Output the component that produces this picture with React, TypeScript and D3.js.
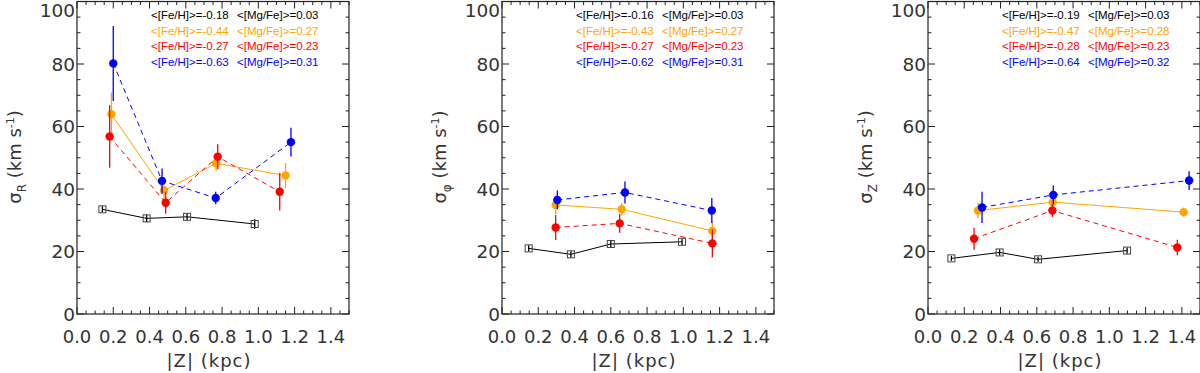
import React from "react";
import * as d3 from "d3";

// each point: [|Z| kpc, sigma km/s, error]
const sigR_black = [[0.14, 33.5, 1], [0.384, 30.6, 1.2], [0.607, 31.1, 1], [0.98, 28.8, 1.5]];
const sigR_orange = [[0.19, 63.9, 7], [0.48, 39.5, 3], [0.767, 48.2, 2.5], [1.15, 44.3, 4]];
const sigR_red = [[0.18, 56.8, 10], [0.489, 35.6, 3.5], [0.776, 50.3, 4], [1.118, 39.1, 6]];
const sigR_blue = [[0.2, 80.2, 12], [0.469, 42.6, 4], [0.765, 37.1, 2], [1.18, 55.0, 4.6]];

const sigPhi_black = [[0.147, 21.0, 1], [0.38, 19.1, 1], [0.6, 22.4, 1], [0.993, 23.1, 1]];
const sigPhi_orange = [[0.296, 34.9, 3], [0.66, 33.5, 2], [1.16, 26.6, 3]];
const sigPhi_red = [[0.296, 27.7, 4], [0.649, 29.0, 3], [1.16, 22.6, 4.5]];
const sigPhi_blue = [[0.305, 36.5, 3], [0.678, 38.9, 3.5], [1.157, 33.1, 4]];

const sigZ_black = [[0.129, 17.8, 0.8], [0.395, 19.7, 1], [0.607, 17.5, 0.8], [1.098, 20.3, 1]];
const sigZ_orange = [[0.276, 33.1, 2.5], [0.688, 35.8, 2], [1.41, 32.6, 1.5]];
const sigZ_red = [[0.254, 24.1, 3.5], [0.686, 33.1, 2], [1.375, 21.3, 2.5]];
const sigZ_blue = [[0.298, 34.1, 5], [0.691, 38.1, 3], [1.44, 42.7, 3]];

const legendFeR = ["-0.18", "-0.44", "-0.27", "-0.63"];
const legendMgR = ["0.03", "0.27", "0.23", "0.31"];
const legendFePhi = ["-0.16", "-0.43", "-0.27", "-0.62"];
const legendMgPhi = ["0.03", "0.27", "0.23", "0.31"];
const legendFeZ = ["-0.19", "-0.47", "-0.28", "-0.64"];
const legendMgZ = ["0.03", "0.28", "0.23", "0.32"];

const yTicks = [0, 20, 40, 60, 80, 100];
const xTicks = ["0.0", "0.2", "0.4", "0.6", "0.8", "1.0", "1.2", "1.4"];

const colors = ["#000000", "#FFA500", "#FF0000", "#0000FF"];
const dashes = [null, null, "5,4", "5,4"];

const panels = [
  { left: 77, sub: "R", series: [sigR_black, sigR_orange, sigR_red, sigR_blue], fe: legendFeR, mg: legendMgR },
  { left: 502, sub: "\u03c6", series: [sigPhi_black, sigPhi_orange, sigPhi_red, sigPhi_blue], fe: legendFePhi, mg: legendMgPhi },
  { left: 928, sub: "Z", series: [sigZ_black, sigZ_orange, sigZ_red, sigZ_blue], fe: legendFeZ, mg: legendMgZ },
];

const top = 1.5;
const pw = 272;
const ph = 312.5;
const font = "DejaVu Sans, Liberation Sans, sans-serif";
const legendFont = "Liberation Sans, Arial, sans-serif";
const textColor = "#333";

function Panel({ p }: { p: any }) {
  const x = d3.scaleLinear().domain([0, 1.5]).range([0, pw]);
  const y = d3.scaleLinear().domain([0, 100]).range([ph, 0]);
  const line = d3.line<number[]>().x((d) => x(d[0])).y((d) => y(d[1]));
  const xMinor = d3.range(0, 31).map((i) => i * 0.05);
  const yMinor = d3.range(0, 21).map((i) => i * 5);

  return (
    <g transform={`translate(${p.left},${top})`}>
      {/* frame and ticks */}
      <rect x={0} y={0} width={pw} height={ph} fill="none" stroke="#222" strokeWidth={1.2} />
      {xMinor.map((v, i) => {
        const major = i % 4 === 0;
        const len = major ? 7 : 3.5;
        return (
          <g key={"xt" + i} stroke="#222" strokeWidth={1}>
            <line x1={x(v)} x2={x(v)} y1={ph} y2={ph - len} />
            <line x1={x(v)} x2={x(v)} y1={0} y2={len} />
          </g>
        );
      })}
      {yMinor.map((v, i) => {
        const major = i % 4 === 0;
        const len = major ? 7 : 3.5;
        return (
          <g key={"yt" + i} stroke="#222" strokeWidth={1}>
            <line x1={0} x2={len} y1={y(v)} y2={y(v)} />
            <line x1={pw} x2={pw - len} y1={y(v)} y2={y(v)} />
          </g>
        );
      })}
      {xTicks.map((t) => (
        <text key={"xl" + t} x={x(+t)} y={ph + 29} textAnchor="middle" fontSize={18} fontFamily={font} fill={textColor}>
          {t}
        </text>
      ))}
      {yTicks.map((t) => (
        <text key={"yl" + t} x={-2} y={Math.max(y(t) + 6.5, 15)} textAnchor="end" fontSize={18.5} fontFamily={font} fill={textColor}>
          {t}
        </text>
      ))}
      {/* axis titles */}
      <text x={pw / 2 - 4} y={ph + 53} textAnchor="middle" fontSize={18} letterSpacing={1} fontFamily={font} fill={textColor}>
        |Z| (kpc)
      </text>
      <text transform={`translate(${-56},${157 - top}) rotate(-90)`} textAnchor="middle" fontSize={18} fontFamily={font} fill={textColor}>
        <tspan>{"\u03c3"}</tspan>
        <tspan fontSize={12} dy={5}>{p.sub}</tspan>
        <tspan dy={-5}>{" (km  s"}</tspan>
        <tspan fontSize={11} dy={-7}>{"-1"}</tspan>
        <tspan dy={7}>{")"}</tspan>
      </text>
      {/* data */}
      {p.series.map((s: number[][], si: number) => (
        <g key={"s" + si}>
          <path d={line(s) || ""} fill="none" stroke={colors[si]} strokeWidth={1} strokeDasharray={dashes[si] || undefined} />
          {s.map((d, i) => (
            <line key={"e" + i} x1={x(d[0])} x2={x(d[0])} y1={y(d[1] - d[2])} y2={y(d[1] + d[2])} stroke={colors[si]} strokeWidth={1.3} />
          ))}
          {s.map((d, i) =>
            si === 0 ? (
              <rect key={"m" + i} x={x(d[0]) - 3.5} y={y(d[1]) - 3.5} width={7} height={7} fill="none" stroke="#444" strokeWidth={1} />
            ) : (
              <circle key={"m" + i} cx={x(d[0])} cy={y(d[1])} r={4.2} fill={colors[si]} />
            )
          )}
        </g>
      ))}
      {/* legend */}
      {p.fe.map((v: string, i: number) => (
        <g key={"lg" + i} fontSize={11.5} fontFamily={legendFont} fill={colors[i]}>
          <text x={74} y={17.5 + i * 15.6}>{`<[Fe/H]>=${v}`}</text>
          <text x={160} y={17.5 + i * 15.6}>{`<[Mg/Fe]>=${p.mg[i]}`}</text>
        </g>
      ))}
    </g>
  );
}

export default function App() {
  return (
    <svg width={1200} height={373} style={{ position: "absolute", left: 0, top: 0, background: "#fff" }}>
      <rect width={1200} height={373} fill="#fff" />
      {panels.map((p, i) => (
        <Panel key={i} p={p} />
      ))}
    </svg>
  );
}
